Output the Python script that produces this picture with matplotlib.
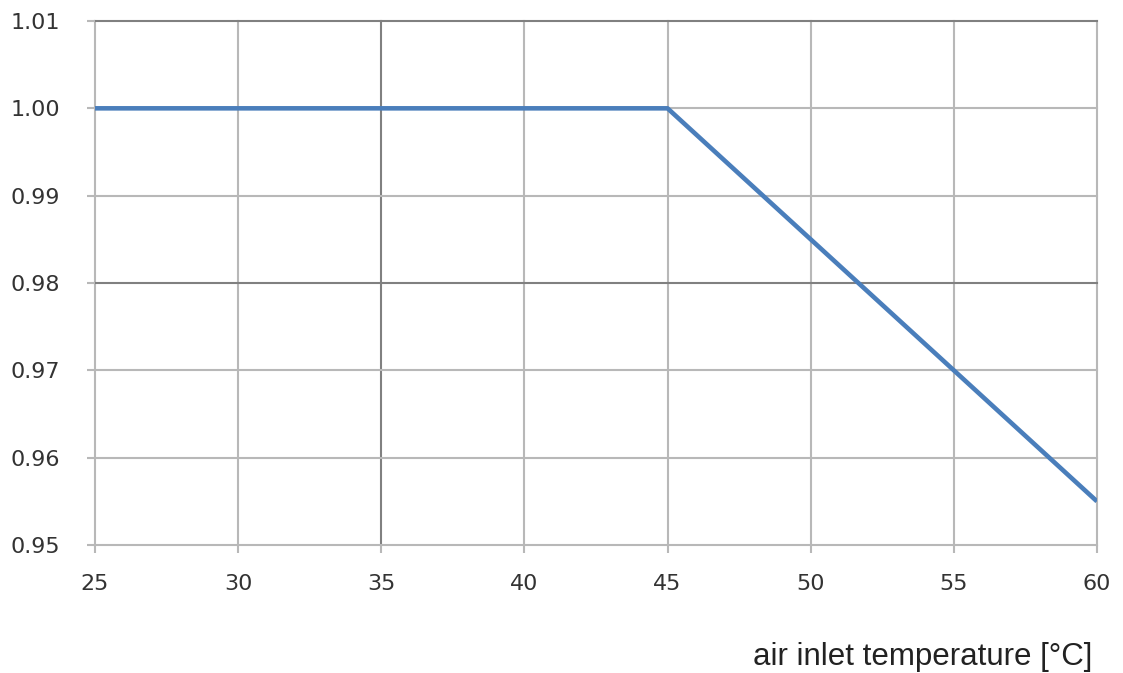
import matplotlib

matplotlib.use("Agg")
import matplotlib.pyplot as plt

plt.rcParams["font.family"] = ["DejaVu Sans"]

# derating curve: factor vs. air inlet temperature
temp_c = [25, 45, 60]
factor = [1.00, 1.00, 0.955]

x_ticks = [25, 30, 35, 40, 45, 50, 55, 60]
y_ticks = [0.95, 0.96, 0.97, 0.98, 0.99, 1.00, 1.01]

GRID = "#b8b8b8"
GRID_DARK = "#808080"
LINE = "#4a7ebb"

fig = plt.figure(figsize=(11.23, 6.73), dpi=100)
ax = fig.add_axes([0.0846, 0.1902, 0.8922, 0.7786])

ax.plot(temp_c, factor, color=LINE, lw=3.3, solid_capstyle="butt", zorder=3)

ax.set_xlim(25, 60)
ax.set_ylim(0.95, 1.01)
ax.set_xticks(x_ticks)
ax.set_yticks(y_ticks)
ax.set_xticklabels([str(t) for t in x_ticks])
ax.set_yticklabels([f"{t:.2f}" for t in y_ticks])

for s in ax.spines.values():
    s.set_visible(False)

ax.grid(True, color=GRID, lw=1.5, zorder=1)
for line, t in zip(ax.get_xgridlines(), x_ticks):
    line.set_clip_on(False)
    if t == 35:
        line.set_color(GRID_DARK)
for line, t in zip(ax.get_ygridlines(), y_ticks):
    line.set_clip_on(False)
    if t in (0.98, 1.01):
        line.set_color(GRID_DARK)

ax.tick_params(axis="both", length=6, width=1.5, color=GRID,
               labelsize=16, labelcolor="#333333")
ax.tick_params(axis="y", pad=19)
ax.tick_params(axis="x", pad=15)

fig.text(0.9724, 0.0238, "air inlet temperature [°C]", ha="right", va="center",
         fontsize=22.5, family="Liberation Sans", color="#222222")

fig.savefig("out.png", dpi=100)
